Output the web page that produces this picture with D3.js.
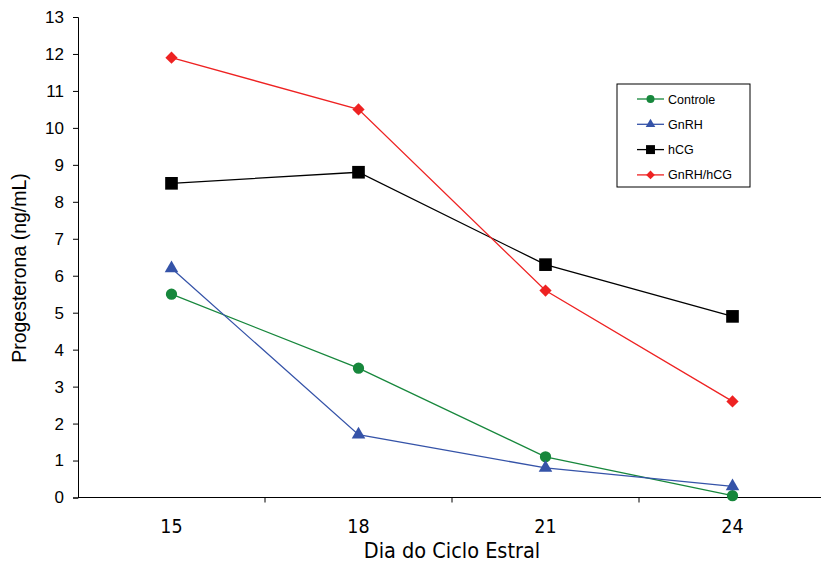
<!DOCTYPE html>
<html>
<head>
<meta charset="utf-8">
<script src="https://cdn.jsdelivr.net/npm/d3@7"></script>
<style>
  body { margin: 0; background: #fff; }
  svg { display: block; }
  .sans { font-family: "Liberation Sans", Arial, Helvetica, sans-serif; }
  .narrow { font-family: "Liberation Sans Narrow", "Arial Narrow", "DejaVu Sans Condensed", sans-serif; }
</style>
</head>
<body>
<svg id="chart" width="821" height="564"></svg>
<script>
// Data
var days = [15, 18, 21, 24];
var controle = [5.5, 3.5, 1.1, 0.05];
var gnrh = [6.2, 1.7, 0.8, 0.3];
var hcg = [8.5, 8.8, 6.3, 4.9];
var gnrhHcg = [11.9, 10.5, 5.6, 2.6];
var yTicks = d3.range(0, 14);

var series = [
  {name: 'Controle', values: controle, color: '#17873c', symbol: d3.symbolCircle, size: 100, rot: 0},
  {name: 'GnRH', values: gnrh, color: '#3553a8', symbol: d3.symbolTriangle, size: 80, rot: 0},
  {name: 'hCG', values: hcg, color: '#000000', symbol: d3.symbolSquare, size: 160, rot: 0},
  {name: 'GnRH/hCG', values: gnrhHcg, color: '#ee2222', symbol: d3.symbolSquare, size: 75, rot: 45}
];

var svg = d3.select('#chart');
var margin = {left: 78, top: 17, bottom: 67};
var height = 564;

var x = d3.scaleBand()
    .domain(days)
    .range([margin.left, 826]);
var y = d3.scaleLinear()
    .domain([0, 13])
    .range([height - margin.bottom + 0.5, margin.top]);

// Y axis
var yAxis = svg.append('g')
    .attr('transform', 'translate(' + margin.left + ',0)')
    .call(d3.axisLeft(y).tickValues(yTicks).tickSize(5).tickPadding(9));
yAxis.attr('font-family', null).attr('font-size', null);
yAxis.select('.domain').attr('stroke', '#000');
yAxis.selectAll('text')
    .attr('class', 'sans')
    .style('font-size', '17px')
    .attr('fill', '#000');

// X axis: line plus ticks on category boundaries
var xAxisG = svg.append('g')
    .attr('transform', 'translate(0,' + y(0) + ')');
xAxisG.append('line')
    .attr('x1', margin.left).attr('x2', 826)
    .attr('stroke', '#000');
xAxisG.selectAll('.bound')
    .data(days.slice(1))
    .enter().append('line')
    .attr('class', 'bound')
    .attr('x1', function(d) { return x(d); })
    .attr('x2', function(d) { return x(d); })
    .attr('y1', 0).attr('y2', 5)
    .attr('stroke', '#000');
xAxisG.selectAll('.lab')
    .data(days)
    .enter().append('text')
    .attr('class', 'lab narrow')
    .attr('x', function(d) { return x(d) + x.bandwidth() / 2; })
    .attr('y', 35.5)
    .attr('text-anchor', 'middle')
    .style('font-size', '19.5px')
    .text(function(d) { return d; });

// Axis titles
svg.append('text')
    .attr('class', 'narrow')
    .attr('x', 452).attr('y', 558)
    .attr('text-anchor', 'middle')
    .style('font-size', '21.5px')
    .text('Dia do Ciclo Estral');
svg.append('text')
    .attr('class', 'sans')
    .attr('transform', 'translate(26,' + 268 + ') rotate(-90)')
    .attr('text-anchor', 'middle')
    .style('font-size', '19.5px')
    .text('Progesterona (ng/mL)');

// Lines and markers
var cx = function(i) { return x(days[i]) + x.bandwidth() / 2; };
var line = d3.line()
    .x(function(d, i) { return cx(i); })
    .y(function(d) { return y(d); });

series.forEach(function(s) {
  var g = svg.append('g').attr('class', 'series');
  g.append('path')
      .datum(s.values)
      .attr('d', line)
      .attr('fill', 'none')
      .attr('stroke', s.color)
      .attr('stroke-width', 1.3);
  g.selectAll('path.mark')
      .data(s.values)
      .enter().append('path')
      .attr('class', 'mark')
      .attr('d', d3.symbol().type(s.symbol).size(s.size))
      .attr('transform', function(d, i) {
        return 'translate(' + cx(i) + ',' + y(d) + ') rotate(' + s.rot + ')';
      })
      .attr('fill', s.color);
});

// Legend
var legend = svg.append('g').attr('transform', 'translate(617,84)');
legend.append('rect')
    .attr('width', 133).attr('height', 103)
    .attr('fill', '#fff')
    .attr('stroke', '#000');
series.forEach(function(s, i) {
  var row = legend.append('g').attr('transform', 'translate(0,' + (15 + i * 25.3) + ')');
  row.append('line')
      .attr('x1', 20).attr('x2', 47)
      .attr('stroke', s.color).attr('stroke-width', 1.3);
  row.append('path')
      .attr('d', d3.symbol().type(s.symbol).size(s.size * 0.5))
      .attr('transform', 'translate(33.5,0) rotate(' + s.rot + ')')
      .attr('fill', s.color);
  row.append('text')
      .attr('class', 'sans')
      .attr('x', 51).attr('y', 4.5)
      .style('font-size', '12.5px')
      .text(s.name);
});
</script>
</body>
</html>
